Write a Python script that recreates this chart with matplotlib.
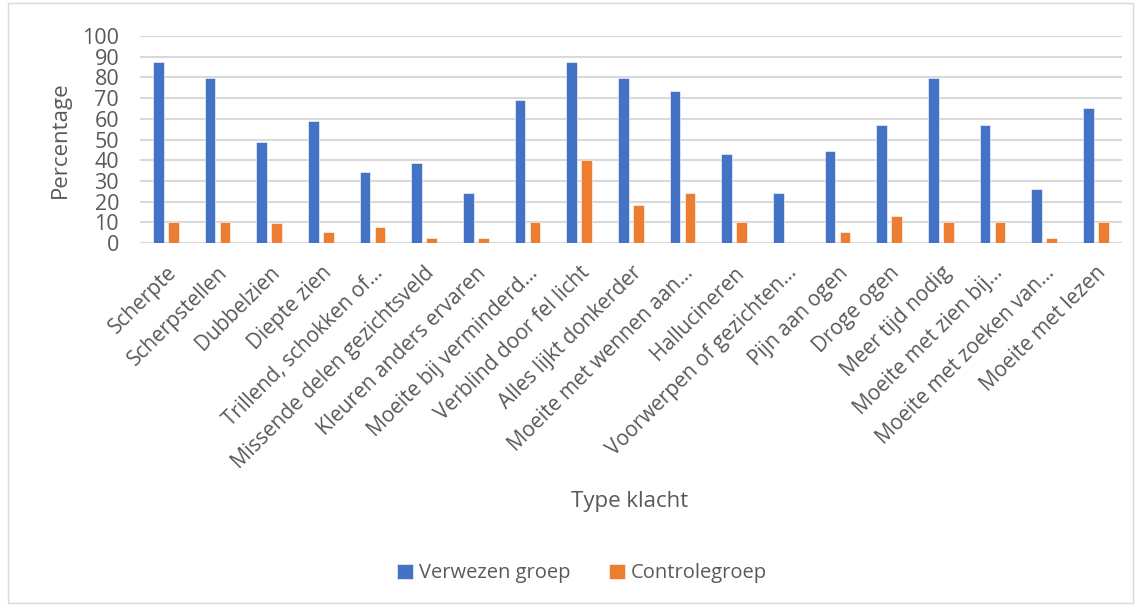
import numpy as np
import matplotlib.pyplot as plt
from matplotlib.patches import Rectangle

plt.rcParams['font.family'] = ['Open Sans', 'DejaVu Sans']

categories = [
    "Scherpte", "Scherpstellen", "Dubbelzien", "Diepte zien",
    "Trillend, schokken of…", "Missende delen gezichtsveld",
    "Kleuren anders ervaren", "Moeite bij verminderd…",
    "Verblind door fel licht", "Alles lijkt donkerder",
    "Moeite met wennen aan…", "Hallucineren", "Voorwerpen of gezichten…",
    "Pijn aan ogen", "Droge ogen", "Meer tijd nodig",
    "Moeite met zien bij…", "Moeite met zoeken van…", "Moeite met lezen",
]
verwezen = [87.5, 79.6, 48.6, 59.0, 34.4, 38.5, 24.3, 69.0, 87.5, 79.6,
            73.5, 42.9, 24.3, 44.6, 56.9, 79.6, 56.9, 26.0, 65.1]
controle = [10.3, 10.3, 9.8, 5.1, 7.9, 2.4, 2.4, 10.3, 40.2, 18.6,
            24.0, 10.3, 0.0, 5.1, 13.0, 10.3, 10.3, 2.4, 10.3]

grey = "#595959"
fig = plt.figure(figsize=(11.41, 6.10), dpi=100)
ax = fig.add_axes([0.1227, 0.6016, 0.8603, 0.3394])

x = np.arange(len(categories))
w = 0.21
ax.bar(x - 0.145, verwezen, w, color="#4472C4", label="Verwezen groep",
       edgecolor="white", linewidth=0.4, zorder=3)
ax.bar(x + 0.145, controle, w, color="#ED7D31", label="Controlegroep",
       edgecolor="white", linewidth=0.4, zorder=3)

ax.set_xlim(-0.5, len(categories) - 0.5)
ax.set_ylim(0, 100)
ax.set_yticks(range(0, 101, 10))
ax.yaxis.grid(True, color="#d9d9d9", linewidth=1.5, zorder=0)
for s in ax.spines.values():
    s.set_visible(False)
ax.axhline(0, color="#d9d9d9", linewidth=1.5, zorder=2)
ax.tick_params(axis="both", length=0, colors=grey)
ax.tick_params(axis="y", labelsize=15.5, pad=15)
ax.set_xticks(x)
ax.set_xticklabels(categories, rotation=45, ha="right", rotation_mode="anchor",
                   fontsize=15, color=grey)
ax.tick_params(axis="x", pad=14)

ax.set_ylabel("Percentage", fontsize=16, color=grey, labelpad=8)
fig.text(0.552, 0.178, "Type klacht", fontsize=16, color=grey, ha="center", va="center")

handles, labels = ax.get_legend_handles_labels()
fig.legend(handles, labels, loc="center", bbox_to_anchor=(0.51, 0.06), ncol=2,
           frameon=False, fontsize=14.5, labelcolor=grey, handlelength=0.8,
           handleheight=0.8, handletextpad=0.3, columnspacing=1.9)

fig.patches.append(Rectangle((0.007, 0.011), 0.986, 0.984, transform=fig.transFigure,
                             fill=False, edgecolor="#d9d9d9", linewidth=1))

fig.savefig("out.png", dpi=100)
